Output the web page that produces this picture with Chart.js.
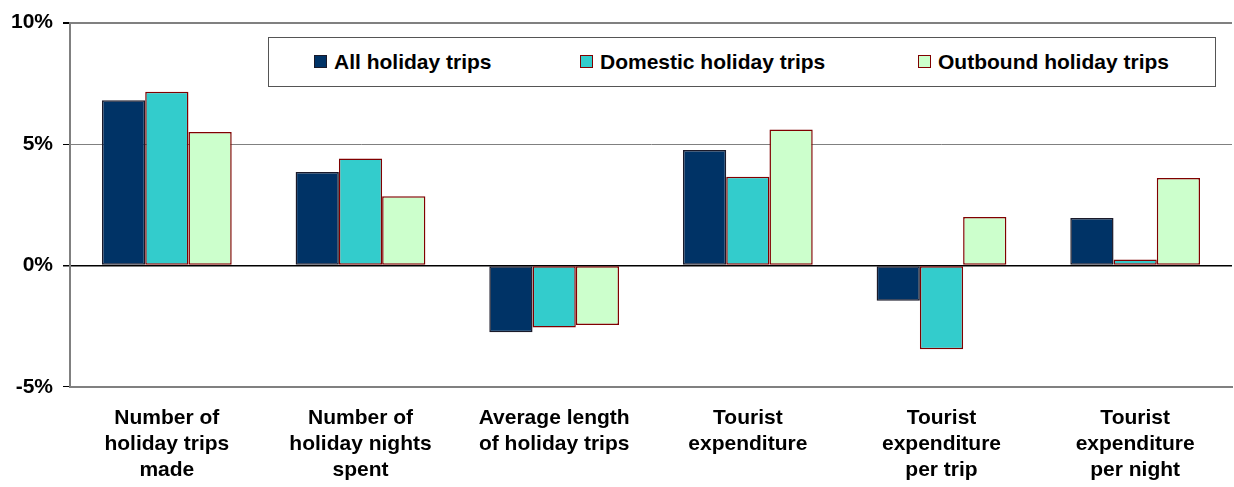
<!DOCTYPE html>
<html>
<head>
<meta charset="utf-8">
<script src="https://cdn.jsdelivr.net/npm/chart.js@4"></script>
<style>
	body { margin: 0; background: #fff; }
	#wrap { position: relative; width: 1234px; height: 487px; }
	#legend {
		position: absolute; left: 268px; top: 37px; width: 946px; height: 48px;
		border: 1px solid #555; background: #fff; box-sizing: content-box;
		font: bold 21px "Liberation Sans", Arial, sans-serif; color: #000;
	}
	#legend .item { position: absolute; top: 12px; white-space: nowrap; line-height: 24px; }
	#legend .box { display: inline-block; width: 11px; height: 11px; margin-right: 7px; vertical-align: 1px; border: 1px solid; }
</style>
</head>
<body>
<div id="wrap">
	<canvas id="chart" width="1234" height="487"></canvas>
	<div id="legend"></div>
</div>
<script>
const categories = [
	['Number of', 'holiday trips', 'made'],
	['Number of', 'holiday nights', 'spent'],
	['Average length', 'of holiday trips'],
	['Tourist', 'expenditure'],
	['Tourist', 'expenditure', 'per trip'],
	['Tourist', 'expenditure', 'per night']
];
const seriesNames = ['All holiday trips', 'Domestic holiday trips', 'Outbound holiday trips'];
const allTrips = [6.8, 3.85, -2.75, 4.75, -1.45, 1.95];
const domesticTrips = [7.15, 4.4, -2.55, 3.65, -3.45, 0.25];
const outboundTrips = [5.5, 2.85, -2.45, 5.6, 2.0, 3.6];
const yMin = -5, yMax = 10, yStep = 5;

const font = "'Liberation Sans', Arial, sans-serif";

const ctx = document.getElementById('chart');
let chart = new Chart(ctx, {
	type: 'bar',
	data: {
		labels: categories,
		datasets: [
			{
				label: seriesNames[0],
				data: allTrips,
				backgroundColor: '#003366',
				borderColor: '#1a1a2a',
				borderWidth: 1.5,
				borderSkipped: false
			},
			{
				label: seriesNames[1],
				data: domesticTrips,
				backgroundColor: '#33CCCC',
				borderColor: '#800000',
				borderWidth: 1.5,
				borderSkipped: false
			},
			{
				label: seriesNames[2],
				data: outboundTrips,
				backgroundColor: '#CCFFCC',
				borderColor: '#800000',
				borderWidth: 1.5,
				borderSkipped: false
			}
		]
	},
	options: {
		responsive: false,
		animation: false,
		devicePixelRatio: 1,
		layout: { padding: { top: 13, right: 2, bottom: -6, left: 0 } },
		datasets: { bar: { categoryPercentage: 0.67, barPercentage: 1 } },
		plugins: {
			legend: { display: false },
			tooltip: { enabled: false }
		},
		scales: {
			x: {
				grid: { display: false },
				border: { display: true, color: '#808080', width: 2 },
				ticks: {
					color: '#000',
					padding: 10,
					maxRotation: 0,
					autoSkip: false,
					font: { family: font, size: 21, weight: 'bold', lineHeight: 1.24 }
				}
			},
			y: {
				min: yMin,
				max: yMax,
				afterFit: scale => { scale.width = 70; },
				border: { display: true, color: '#808080', width: 2 },
				grid: {
					color: c => c.tick && c.tick.value === 0 ? '#000' : '#808080',
					lineWidth: c => c.tick && c.tick.value === 0 ? 1.5 : (c.tick && c.tick.value === yMax ? 2 : 1),
					tickColor: '#000',
					tickLength: 7
				},
				ticks: {
					stepSize: yStep,
					color: '#000',
					padding: 10,
					font: { family: font, size: 21, weight: 'bold' },
					callback: v => v + '%'
				}
			}
		}
	}
});

// legend inside the plot, like the original
const legend = document.getElementById('legend');
const itemLeft = [45, 311, 649];
chart.data.datasets.forEach((ds, i) => {
	let item = document.createElement('div');
	item.className = 'item';
	item.style.left = itemLeft[i] + 'px';
	item.innerHTML = '<span class="box" style="background:' + ds.backgroundColor + ';border-color:' + ds.borderColor + '"></span>' + ds.label;
	legend.appendChild(item);
});
</script>
</body>
</html>
